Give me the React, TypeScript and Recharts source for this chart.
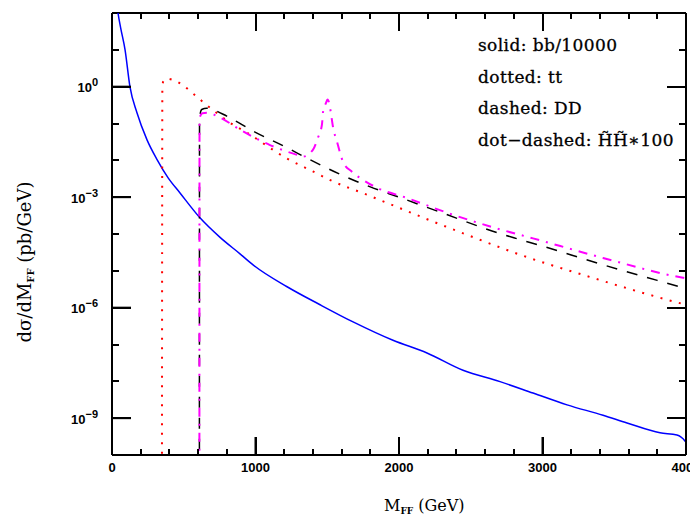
import { LineChart, Line, XAxis, YAxis, ReferenceLine } from 'recharts';

// plot frame in chart coordinates (chart sits at the 8px body margin)
const PLOT = { left: 104, right: 678, top: 5, bottom: 447 };
const W = 690;
const H = 509;

const X_DOMAIN = [0, 4000];
const Y_DOMAIN = [1e-10, 100];
const X_MAJOR = [0, 1000, 2000, 3000, 4000];
const X_MINOR = [
  200, 400, 600, 800, 1200, 1400, 1600, 1800,
  2200, 2400, 2600, 2800, 3200, 3400, 3600, 3800,
];
const Y_MAJOR = [1e-9, 1e-6, 1e-3, 1];
const Y_MINOR = [1e-8, 1e-7, 1e-5, 1e-4, 1e-2, 1e-1, 10];

// solid: bb/10000
const BB_MASS = [
  30, 42, 60, 91, 125, 174, 244, 314, 390, 474, 613, 753, 892, 983, 1220, 1450,
  1680, 1958, 2195, 2446, 2704, 2934, 3171, 3422, 3589, 3819, 3937, 3993, 4000,
];
const BB_XSEC = [
  250, 100, 40, 10, 1, 0.195, 0.036, 0.0105, 3.4e-3, 1.3e-3, 2.75e-4, 8.1e-5, 2.9e-5,
  1.45e-5, 3.7e-6, 1.2e-6, 4.1e-7, 1.3e-7, 5.9e-8, 2.0e-8, 9.8e-9, 4.8e-9, 2.3e-9,
  1.2e-9, 7.4e-10, 4.0e-10, 3.5e-10, 2.4e-10, 2.2e-10,
];

// dotted: tt
const TT_MASS = [
  348, 351, 358, 383, 420, 453, 500, 557, 613, 718, 822, 941, 1220, 1400, 1530,
  1775, 2167, 2474, 2864, 3310, 3979, 4000,
];
const TT_XSEC = [
  1e-11, 1.0, 1.4, 1.66, 1.55, 1.38, 1.05, 0.69, 0.45, 0.21, 0.105, 0.056, 0.0112,
  5.0e-3, 2.8e-3, 1.17e-3, 2.8e-4, 9.5e-5, 2.57e-5, 7.2e-6, 1.26e-6, 1.2e-6,
];

// dashed: DD
const DD_MASS = [
  609, 610, 625, 660, 700, 800, 1000, 1200, 1400, 1600, 1800, 2000, 2200, 2400,
  2600, 2800, 3000, 3200, 3400, 3600, 3800, 4000,
];
const DD_XSEC = [
  1e-11, 0.14, 0.24, 0.26, 0.24, 0.158, 0.0575, 0.024, 9.5e-3, 4.0e-3, 1.9e-3, 1.0e-3,
  5.2e-4, 2.7e-4, 1.4e-4, 7.9e-5, 4.7e-5, 2.7e-5, 1.55e-5, 9.1e-6, 5.5e-6, 3.3e-6,
];

// dot-dashed: HH*100
const HH_MASS = [
  609, 610, 630, 662, 753, 892, 1101, 1289, 1331, 1401, 1435, 1463, 1471, 1490, 1502,
  1514, 1524, 1540, 1568, 1610, 1672, 1749, 1847, 2056, 2334, 2683, 2934, 3422, 3979, 4000,
];
const HH_XSEC = [
  1e-11, 0.14, 0.19, 0.195, 0.145, 0.068, 0.026, 0.0141, 0.0126, 0.0195, 0.041, 0.093,
  0.21, 0.35, 0.45, 0.35, 0.21, 0.081, 0.032, 9.1e-3, 4.9e-3, 2.95e-3, 1.8e-3, 9.5e-4,
  3.8e-4, 1.41e-4, 7.6e-5, 2.24e-5, 6.5e-6, 6.3e-6,
];

const zip = (ms: number[], vs: number[]) => ms.map((m, i) => ({ m, v: vs[i] }));
const bbData = zip(BB_MASS, BB_XSEC);
const ttData = zip(TT_MASS, TT_XSEC);
const ddData = zip(DD_MASS, DD_XSEC);
const hhData = zip(HH_MASS, HH_XSEC);

const TICK_FONT = '"Liberation Sans", Arial, sans-serif';
const SERIF = '"DejaVu Serif", serif';
const FRAME = { stroke: '#000', strokeWidth: 2 };
const TICK_LINE = { stroke: '#000', strokeWidth: 2 };

// same linear / log mapping the chart uses for its plot box, for the frame tick marks
const tickX = (v: number) =>
  PLOT.left + ((v - X_DOMAIN[0]) / (X_DOMAIN[1] - X_DOMAIN[0])) * (PLOT.right - PLOT.left);
const tickY = (v: number) =>
  PLOT.top +
  ((Math.log10(Y_DOMAIN[1]) - Math.log10(v)) / (Math.log10(Y_DOMAIN[1]) - Math.log10(Y_DOMAIN[0]))) *
    (PLOT.bottom - PLOT.top);

function XLabel(props: any) {
  const { x, payload } = props;
  return (
    <text x={x} y={PLOT.bottom + 17} textAnchor="middle" fontFamily={TICK_FONT} fontWeight="bold" fontSize={13} fill="#000">
      {payload.value}
    </text>
  );
}

function YLabel(props: any) {
  const { y, payload } = props;
  const e = Math.round(Math.log10(payload.value));
  return (
    <text x={PLOT.left - 14} y={y + 5.5} textAnchor="end" fontFamily={TICK_FONT} fontWeight="bold" fontSize={13} fill="#000">
      10
      <tspan dy={-5.7} fontSize={11}>{e === 0 ? '0' : '\u2212' + Math.abs(e)}</tspan>
    </text>
  );
}

// tick marks as small filled boxes on all four sides of the frame
function FrameTicks() {
  const rects: any[] = [];
  const vx = (v: number, len: number, k: string) => {
    const x = Math.round(tickX(v)) - 1;
    rects.push(<rect key={k + 'b'} x={x} y={PLOT.bottom - len} width={2} height={len} fill="#000" />);
    rects.push(<rect key={k + 't'} x={x} y={PLOT.top} width={2} height={len} fill="#000" />);
  };
  const hy = (v: number, len: number, k: string) => {
    const y = Math.round(tickY(v)) - 1;
    rects.push(<rect key={k + 'l'} x={PLOT.left} y={y} width={len} height={2} fill="#000" />);
    rects.push(<rect key={k + 'r'} x={PLOT.right - len} y={y} width={len} height={2} fill="#000" />);
  };
  X_MAJOR.forEach((v) => vx(v, 18, 'xM' + v));
  X_MINOR.forEach((v) => vx(v, 6, 'xm' + v));
  Y_MAJOR.forEach((v) => hy(v, 19, 'yM' + v));
  Y_MINOR.forEach((v) => hy(v, 7, 'ym' + v));
  return <g>{rects}</g>;
}

export default function App() {
  return (
    <div style={{ position: 'relative', width: W, height: H }}>
      <LineChart width={W} height={H} margin={{ top: 5, right: 12, bottom: 22, left: 0 }}>
        <XAxis
          dataKey="m"
          type="number"
          domain={X_DOMAIN}
          ticks={X_MAJOR}
          interval={0}
          allowDataOverflow
          height={40}
          tickSize={-18}
          tickLine={TICK_LINE}
          axisLine={FRAME}
          tick={<XLabel />}
        />
        <YAxis
          type="number"
          scale="log"
          domain={Y_DOMAIN}
          ticks={Y_MAJOR}
          interval={0}
          allowDataOverflow
          width={104}
          tickSize={-19}
          tickLine={TICK_LINE}
          axisLine={FRAME}
          tick={<YLabel />}
        />
        <ReferenceLine y={100} stroke="#000" strokeWidth={2} />
        <ReferenceLine x={4000} stroke="#000" strokeWidth={2} />
        <Line data={bbData} dataKey="v" type="monotone" stroke="#0000ff" strokeWidth={1.5} dot={false} isAnimationActive={false} />
        <Line data={ttData} dataKey="v" type="monotone" stroke="#ff0000" strokeWidth={2} strokeDasharray="2 7.5" dot={false} isAnimationActive={false} />
        <Line data={ddData} dataKey="v" type="monotone" stroke="#000" strokeWidth={1.5} strokeDasharray="11 10" dot={false} isAnimationActive={false} />
        <Line data={hhData} dataKey="v" type="monotone" stroke="#ff00ff" strokeWidth={2} strokeDasharray="9 7 2 7" dot={false} isAnimationActive={false} />
      </LineChart>
      <svg width={W} height={H} style={{ position: 'absolute', left: 0, top: 0, pointerEvents: 'none' }}>
        <FrameTicks />
        <g fontFamily={SERIF} fontSize={17} letterSpacing={0.4} fill="#000" stroke="#000" strokeWidth={0.3}>
          <text x={470} y={43}>solid: bb/10000</text>
          <text x={470} y={75}>dotted: tt</text>
          <text x={470} y={106}>dashed: DD</text>
          <text x={470} y={138}>dot{'\u2212'}dashed: H{'\u0303'}H{'\u0303'}{'\u2217'}100</text>
        </g>
        <text x={376} y={503} fontFamily={SERIF} fontSize={16} fill="#000">
          M<tspan dy={3} fontSize={9} fontWeight="bold">FF</tspan>
          <tspan dy={-3}> (GeV)</tspan>
        </text>
        <text x={23} y={254} transform="rotate(-90, 23, 254)" textAnchor="middle" fontFamily={SERIF} fontSize={18} fill="#000">
          d{'\u03c3'}/dM<tspan dy={3} fontSize={10} fontWeight="bold">FF</tspan>
          <tspan dy={-3}> (pb/GeV)</tspan>
        </text>
      </svg>
    </div>
  );
}
